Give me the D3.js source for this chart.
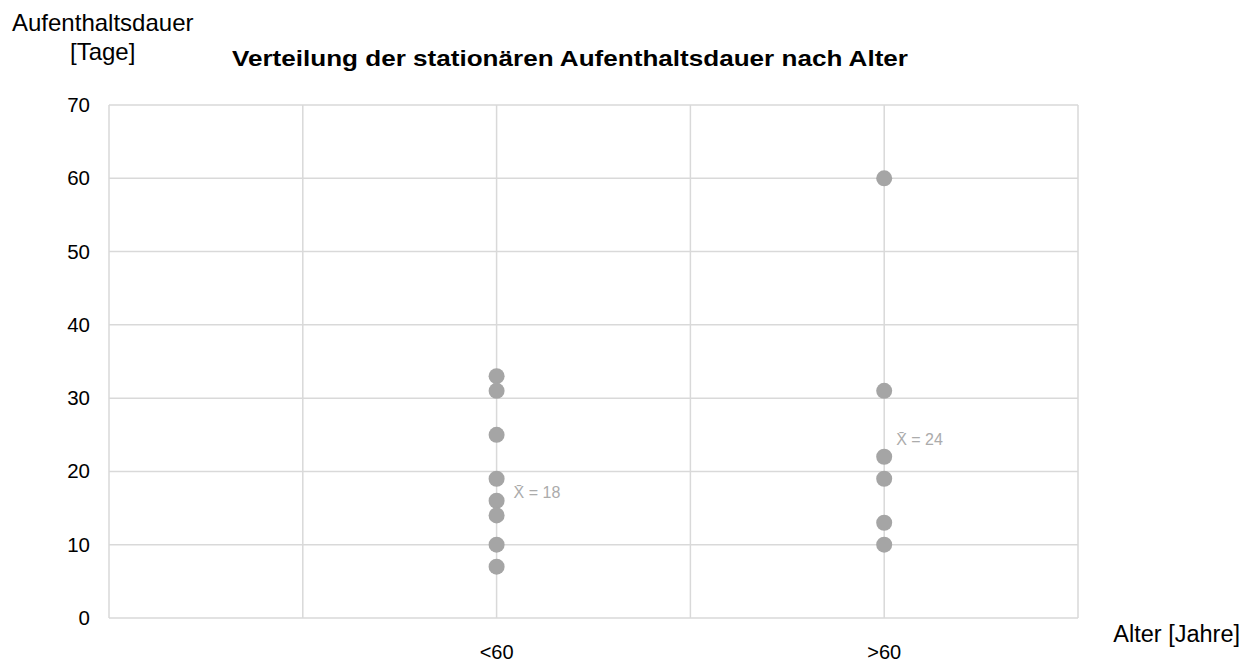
<!DOCTYPE html>
<html>
<head>
<meta charset="utf-8">
<script src="https://cdn.jsdelivr.net/npm/d3@7"></script>
<style>
  body { margin: 0; background: #fff; }
  text { font-family: "Liberation Sans", Arial, sans-serif; }
</style>
</head>
<body>
<div id="chart"></div>
<script>
// data
const groups = ["<60", ">60"];
const groupPos = [2, 4];               // position on the x grid (0..5)
const stayLt60 = [33, 31, 25, 19, 16, 14, 10, 7];
const stayGt60 = [60, 31, 22, 19, 13, 10];
const means = [18, 24];
const meanLabelAt = [17.2, 24.4];      // where the mean label sits (days)
const yTicks = [0, 10, 20, 30, 40, 50, 60, 70];

const width = 1253, height = 664;
const margin = { top: 105, left: 109, bottom: 46, right: 175 };

const svg = d3.select("#chart").append("svg")
    .attr("width", width)
    .attr("height", height);

const x = d3.scaleLinear().domain([0, 5]).range([margin.left, width - margin.right]);
const y = d3.scaleLinear().domain([0, 70]).range([height - margin.bottom, margin.top]);

// grid lines
svg.append("g")
    .selectAll("line")
    .data(yTicks)
    .join("line")
    .attr("x1", x(0)).attr("x2", x(5))
    .attr("y1", d => y(d)).attr("y2", d => y(d))
    .attr("stroke", "#d9d9d9")
    .attr("stroke-width", 1.5);

svg.append("g")
    .selectAll("line")
    .data(d3.range(0, 6))
    .join("line")
    .attr("x1", d => x(d)).attr("x2", d => x(d))
    .attr("y1", y(0)).attr("y2", y(70))
    .attr("stroke", "#d9d9d9")
    .attr("stroke-width", 1.5);

// y tick labels
svg.append("g")
    .selectAll("text")
    .data(yTicks)
    .join("text")
    .attr("x", margin.left - 19)
    .attr("y", d => y(d) + 7)
    .attr("text-anchor", "end")
    .style("font-size", "20.5px")
    .attr("fill", "#000")
    .text(d => d);

// x tick labels
svg.append("g")
    .selectAll("text")
    .data(groups)
    .join("text")
    .attr("x", (d, i) => x(groupPos[i]))
    .attr("y", y(0) + 41)
    .attr("text-anchor", "middle")
    .style("font-size", "20px")
    .attr("fill", "#000")
    .text(d => d);

// points
const series = [stayLt60, stayGt60];
series.forEach((vals, i) => {
    svg.append("g")
        .selectAll("circle")
        .data(vals)
        .join("circle")
        .attr("cx", x(groupPos[i]))
        .attr("cy", d => y(d))
        .attr("r", 8)
        .attr("fill", "#a5a5a5");
});

// mean labels
svg.append("g")
    .selectAll("text")
    .data(means)
    .join("text")
    .attr("x", (d, i) => x(groupPos[i]) + (i === 0 ? 17 : 12))
    .attr("y", (d, i) => y(meanLabelAt[i]) + 6)
    .style("font-size", "16px")
    .attr("fill", "#ababab")
    .text(d => "X\u0304 = " + d);

// title
svg.append("text")
    .attr("x", 232)
    .attr("y", 66)
    .attr("textLength", 676)
    .attr("lengthAdjust", "spacingAndGlyphs")
    .style("font-size", "22.5px")
    .style("font-weight", "bold")
    .attr("fill", "#000")
    .text("Verteilung der stationären Aufenthaltsdauer nach Alter");

// axis titles
svg.append("text")
    .attr("x", 12).attr("y", 31)
    .style("font-size", "24px")
    .attr("fill", "#000")
    .text("Aufenthaltsdauer");
svg.append("text")
    .attr("x", 70).attr("y", 60)
    .style("font-size", "24px")
    .attr("fill", "#000")
    .text("[Tage]");
svg.append("text")
    .attr("x", 1240).attr("y", 642)
    .attr("text-anchor", "end")
    .style("font-size", "23.5px")
    .attr("fill", "#000")
    .text("Alter [Jahre]");
</script>
</body>
</html>
